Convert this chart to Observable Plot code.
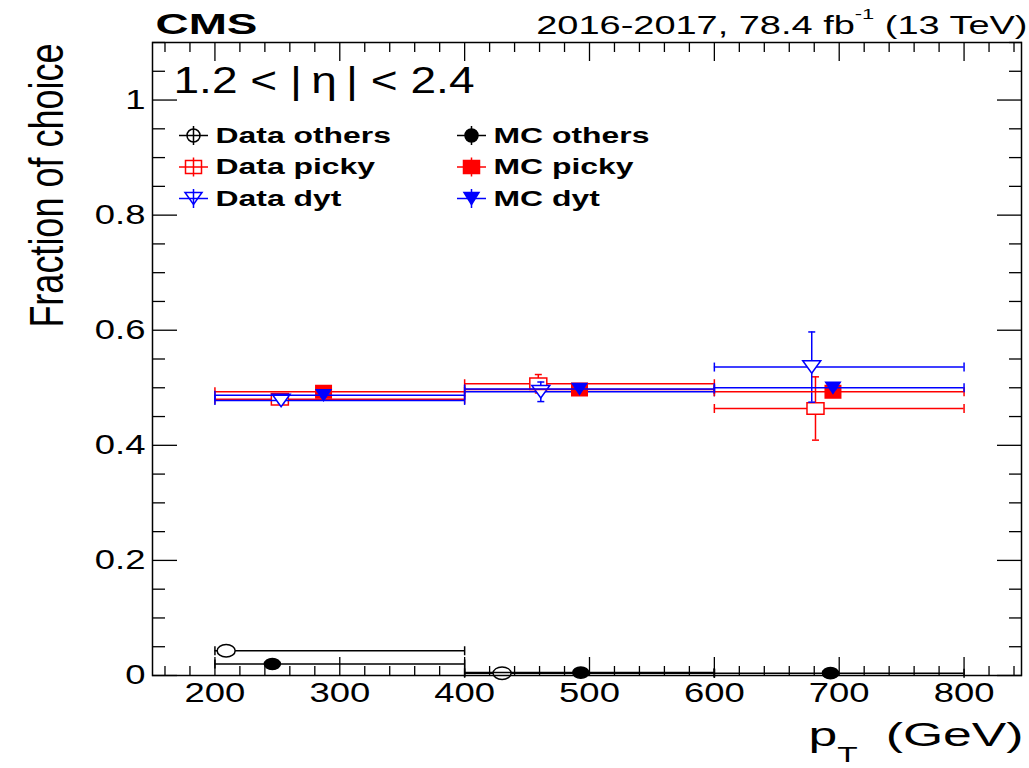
<!DOCTYPE html>
<html>
<head>
<meta charset="utf-8">
<script src="https://cdn.jsdelivr.net/npm/d3@7"></script>
<script src="https://cdn.jsdelivr.net/npm/@observablehq/plot@0.6"></script>
<style>
  html, body { margin: 0; padding: 0; background: #ffffff; }
</style>
</head>
<body>
<div id="chart"></div>
<script>
// pT bins (GeV)
const binLow = [200, 400, 600];
const binHigh = [400, 600, 800];

// Marker positions (GeV), fractions and uncertainties for each series
const dataOthersPt = [209, 430];
const dataOthersFrac = [0.043, 0.004];
const dataOthersErr = [0.004, 0.003];

const dataPickyPt = [252, 459, 681];
const dataPickyFrac = [0.480, 0.507, 0.464];
const dataPickyErr = [0.006, 0.016, 0.055];

const dataDytPt = [253, 461, 678];
const dataDytFrac = [0.478, 0.493, 0.536];
const dataDytErr = [0.004, 0.017, 0.061];

const mcOthersPt = [246, 493, 693];
const mcOthersFrac = [0.020, 0.005, 0.004];
const mcOthersErr = [0.001, 0.001, 0.001];

const mcPickyPt = [287, 492, 695];
const mcPickyFrac = [0.493, 0.497, 0.493];
const mcPickyErr = [0.002, 0.002, 0.003];

const mcDytPt = [287, 492, 695];
const mcDytFrac = [0.487, 0.498, 0.500];
const mcDytErr = [0.002, 0.002, 0.003];

// Axis ticks
const xTicks = [200, 300, 400, 500, 600, 700, 800];
const yTicks = [0, 0.2, 0.4, 0.6, 0.8, 1];
const xMinor = d3.range(160, 846, 20).filter(v => v % 100 !== 0);
const yMinor = d3.range(1, 23).filter(i => i % 4 !== 0).map(i => i * 0.05);

// Text
const expLabel = "CMS";
const lumiLabel = ["2016-2017, 78.4 fb", "-1", " (13 TeV)"];
const etaLabel = "1.2 < |\u2009η\u2009| < 2.4";
const yTitle = "Fraction of choice";
const xTitle = ["p", "T", " (GeV)"];

const FONT = "'Liberation Sans', Arial, Helvetica, sans-serif";
const red = "#ff0000", blue = "#0000ff", black = "#000000";
const LW = 1.5;

// Marker shapes (drawn in pixels, wider than tall like the ROOT markers)
function ellipse(rx, ry) {
  const k = 0.5523;
  return {draw(c) {
    c.moveTo(rx, 0);
    c.bezierCurveTo(rx, ry * k, rx * k, ry, 0, ry);
    c.bezierCurveTo(-rx * k, ry, -rx, ry * k, -rx, 0);
    c.bezierCurveTo(-rx, -ry * k, -rx * k, -ry, 0, -ry);
    c.bezierCurveTo(rx * k, -ry, rx, -ry * k, rx, 0);
    c.closePath();
  }};
}
function box(w, h) { return {draw(c) { c.rect(-w / 2, -h / 2, w, h); }}; }
function triDown(w, h) {
  return {draw(c) { c.moveTo(-w / 2, -h / 2); c.lineTo(w / 2, -h / 2); c.lineTo(0, h / 2); c.closePath(); }};
}
function hSeg(w) { return {draw(c) { c.moveTo(-w / 2, 0); c.lineTo(w / 2, 0); }}; }
function vSeg(h) { return {draw(c) { c.moveTo(0, -h / 2); c.lineTo(0, h / 2); }}; }

const series = [
  {name: "Data others", color: black, pt: dataOthersPt, frac: dataOthersFrac, err: dataOthersErr,
   marker: ellipse(9, 6.3), fill: "white", legendMarker: ellipse(6.5, 6.5), legendFill: "none", col: 0, row: 0},
  {name: "Data picky", color: red, pt: dataPickyPt, frac: dataPickyFrac, err: dataPickyErr,
   marker: box(17, 11.5), fill: "white", legendMarker: box(16, 13), legendFill: "none", col: 0, row: 1},
  {name: "Data dyt", color: blue, pt: dataDytPt, frac: dataDytFrac, err: dataDytErr,
   marker: triDown(18, 12.5), fill: "white", legendMarker: triDown(17, 12), legendFill: "none", col: 0, row: 2},
  {name: "MC others", color: black, pt: mcOthersPt, frac: mcOthersFrac, err: mcOthersErr,
   marker: ellipse(8, 5.6), fill: black, legendMarker: ellipse(6.5, 6.5), legendFill: black, col: 1, row: 0},
  {name: "MC picky", color: red, pt: mcPickyPt, frac: mcPickyFrac, err: mcPickyErr,
   marker: box(15.5, 12.5), fill: red, legendMarker: box(16, 13), legendFill: red, col: 1, row: 1},
  {name: "MC dyt", color: blue, pt: mcDytPt, frac: mcDytFrac, err: mcDytErr,
   marker: triDown(14.5, 11), fill: blue, legendMarker: triDown(15, 12), legendFill: blue, col: 1, row: 2}
];

const rowsOf = s => s.pt.map((pt, i) => ({pt, frac: s.frac[i], err: s.err[i], lo: binLow[i], hi: binHigh[i]}));

const marks = [];

// Axis ticks pointing into the frame on all four sides
const tickOpts = {label: null, fill: "none", strokeWidth: 1.3};
marks.push(
  Plot.axisX(xTicks, {...tickOpts, anchor: "bottom", tickSize: -18}),
  Plot.axisX(xMinor, {...tickOpts, anchor: "bottom", tickSize: -9}),
  Plot.axisX(xTicks, {...tickOpts, anchor: "top", tickSize: -18}),
  Plot.axisX(xMinor, {...tickOpts, anchor: "top", tickSize: -9}),
  Plot.axisY(yTicks, {...tickOpts, anchor: "left", tickSize: -25}),
  Plot.axisY(yMinor, {...tickOpts, anchor: "left", tickSize: -13}),
  Plot.axisY(yTicks, {...tickOpts, anchor: "right", tickSize: -25}),
  Plot.axisY(yMinor, {...tickOpts, anchor: "right", tickSize: -13}),
  Plot.axisX(xTicks, {anchor: "bottom", label: null, tickSize: 0, tickPadding: 7, fontSize: 27,
                      fontFamily: FONT, ariaDescription: "xtick"}),
  Plot.axisY(yTicks, {anchor: "left", label: null, tickSize: 0, tickPadding: 7, fontSize: 27,
                      fontFamily: FONT, tickFormat: d3.format("~g"), ariaDescription: "ytick"})
);

// Bin-width bars, uncertainties and markers, series by series
for (const s of series) {
  const r = rowsOf(s);
  const st = {stroke: s.color, strokeWidth: LW};
  marks.push(
    Plot.ruleY(r, {x1: "lo", x2: "hi", y: "frac", ...st}),
    Plot.dot(r, {x: "lo", y: "frac", symbol: vSeg(9), fill: "none", ...st}),
    Plot.dot(r, {x: "hi", y: "frac", symbol: vSeg(9), fill: "none", ...st}),
    Plot.ruleX(r, {x: "pt", y1: d => d.frac - d.err, y2: d => d.frac + d.err, ...st}),
    Plot.dot(r, {x: "pt", y: d => d.frac + d.err, symbol: hSeg(7), fill: "none", ...st}),
    Plot.dot(r, {x: "pt", y: d => d.frac - d.err, symbol: hSeg(7), fill: "none", ...st}),
    Plot.dot(r, {x: "pt", y: "frac", symbol: s.marker, fill: s.fill, ...st})
  );
}

// Legend, two columns of three entries
const legendColDx = [41, 319];
const legendRowDy = [93, 124.5, 156];
for (const s of series) {
  const dx = legendColDx[s.col], dy = legendRowDy[s.row];
  const at = {frameAnchor: "top-left", dx, dy, stroke: s.color, strokeWidth: LW};
  marks.push(
    Plot.dot([0], {...at, symbol: hSeg(29), fill: "none"}),
    Plot.dot([0], {...at, symbol: vSeg(19), fill: "none"}),
    Plot.dot([0], {...at, symbol: s.legendMarker, fill: s.legendFill}),
    Plot.text([s.name], {frameAnchor: "top-left", dx: dx + 22, dy, textAnchor: "start", lineAnchor: "middle",
                         fontSize: 22, fontWeight: "bold", fontFamily: FONT, fill: black, ariaDescription: "legend"})
  );
}

// Headers, region label and axis titles
marks.push(
  Plot.text([expLabel], {frameAnchor: "top-left", dx: 3, dy: -9, textAnchor: "start", lineAnchor: "bottom",
                         fontSize: 30, fontWeight: "bold", fontFamily: FONT, fill: black, ariaDescription: "cms"}),
  Plot.text([lumiLabel.join("")], {frameAnchor: "top-right", dx: 6, dy: -9, textAnchor: "end", lineAnchor: "bottom",
                         fontSize: 26, fontFamily: FONT, fill: black, ariaDescription: "lumi"}),
  Plot.text([etaLabel], {frameAnchor: "top-left", dx: 21, dy: 50, textAnchor: "start", lineAnchor: "bottom",
                         fontSize: 36, fontFamily: FONT, fill: black, ariaDescription: "eta"}),
  Plot.text([yTitle], {frameAnchor: "top-left", dx: -90, dy: 1, rotate: -90, textAnchor: "end", lineAnchor: "bottom",
                       fontSize: 36, fontFamily: FONT, fill: black, ariaDescription: "ytitle"}),
  Plot.text([xTitle.join("")], {frameAnchor: "bottom-right", dx: 2, dy: 70, textAnchor: "end", lineAnchor: "bottom",
                       fontSize: 34, fontFamily: FONT, fill: black, ariaDescription: "xtitle"}),
  Plot.frame({stroke: black, strokeWidth: LW})
);

const svg = Plot.plot({
  width: 1029,
  height: 768,
  marginLeft: 152,
  marginRight: 8,
  marginTop: 42,
  marginBottom: 93,
  x: {domain: [150, 846], label: null},
  y: {domain: [0, 1.1], label: null},
  style: {fontFamily: FONT, background: "#ffffff", color: black, overflow: "visible"},
  marks
});

// Superscript and subscript parts
function setRich(key, parts) {
  const t = svg.querySelector(`g[aria-description="${key}"] text`);
  if (!t) return;
  t.textContent = "";
  for (const p of parts) {
    const ts = document.createElementNS("http://www.w3.org/2000/svg", "tspan");
    ts.textContent = p.text;
    if (p.dy) ts.setAttribute("dy", p.dy);
    if (p.dx) ts.setAttribute("dx", p.dx);
    if (p.size) ts.setAttribute("font-size", p.size);
    t.appendChild(ts);
  }
}
setRich("lumi", [{text: lumiLabel[0]}, {text: lumiLabel[1], dy: -15, size: 15}, {text: lumiLabel[2], dy: 15}]);
setRich("xtitle", [{text: xTitle[0]}, {text: xTitle[1], dy: 16, size: 22}, {text: xTitle[2], dy: -16, dx: 9}]);

// Wide lettering
const stretch = {cms: [1.53, 1], lumi: [1.46, 1], eta: [1.28, 1], legend: [1.45, 1],
                 xtick: [1.35, 1], ytick: [1.35, 1], xtitle: [1.52, 1], ytitle: [1, 1.36]};
for (const [key, [sx, sy]] of Object.entries(stretch)) {
  svg.querySelectorAll(`g[aria-description="${key}"] text`).forEach(t => {
    t.setAttribute("transform", (t.getAttribute("transform") || "") + ` scale(${sx},${sy})`);
  });
}

document.getElementById("chart").appendChild(svg);
</script>
</body>
</html>
